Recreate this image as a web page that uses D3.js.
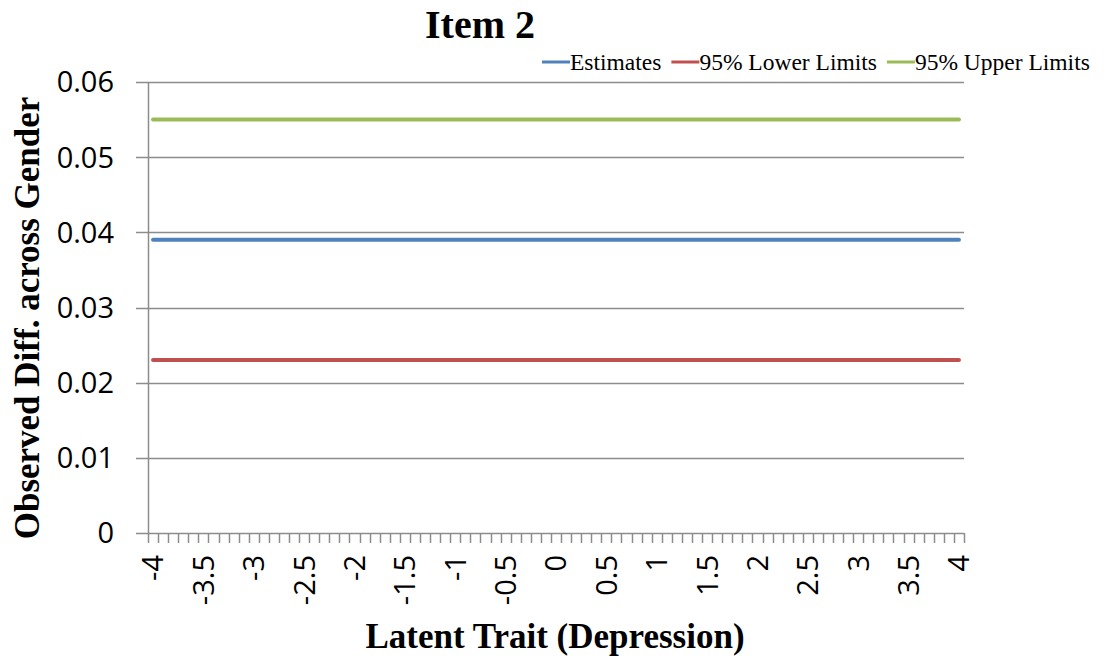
<!DOCTYPE html>
<html>
<head>
<meta charset="utf-8">
<script src="https://cdn.jsdelivr.net/npm/d3@7"></script>
<style>
  body { margin: 0; background: #fff; }
  svg { display: block; }
</style>
</head>
<body>
<div id="chart"></div>
<script>
// categories on the latent trait axis (-4 to 4, step 0.1)
const categories = [
  "-4","-3.9","-3.8","-3.7","-3.6","-3.5","-3.4","-3.3","-3.2","-3.1",
  "-3","-2.9","-2.8","-2.7","-2.6","-2.5","-2.4","-2.3","-2.2","-2.1",
  "-2","-1.9","-1.8","-1.7","-1.6","-1.5","-1.4","-1.3","-1.2","-1.1",
  "-1","-0.9","-0.8","-0.7","-0.6","-0.5","-0.4","-0.3","-0.2","-0.1",
  "0","0.1","0.2","0.3","0.4","0.5","0.6","0.7","0.8","0.9",
  "1","1.1","1.2","1.3","1.4","1.5","1.6","1.7","1.8","1.9",
  "2","2.1","2.2","2.3","2.4","2.5","2.6","2.7","2.8","2.9",
  "3","3.1","3.2","3.3","3.4","3.5","3.6","3.7","3.8","3.9","4"
];
// labels shown on the x axis
const xTickLabels = ["-4","-3.5","-3","-2.5","-2","-1.5","-1","-0.5","0","0.5","1","1.5","2","2.5","3","3.5","4"];
const yTicks = [0, 0.01, 0.02, 0.03, 0.04, 0.05, 0.06];

// series values (flat lines)
const estimates = [
  0.039,0.039,0.039,0.039,0.039,0.039,0.039,0.039,0.039,0.039,
  0.039,0.039,0.039,0.039,0.039,0.039,0.039,0.039,0.039,0.039,
  0.039,0.039,0.039,0.039,0.039,0.039,0.039,0.039,0.039,0.039,
  0.039,0.039,0.039,0.039,0.039,0.039,0.039,0.039,0.039,0.039,
  0.039,0.039,0.039,0.039,0.039,0.039,0.039,0.039,0.039,0.039,
  0.039,0.039,0.039,0.039,0.039,0.039,0.039,0.039,0.039,0.039,
  0.039,0.039,0.039,0.039,0.039,0.039,0.039,0.039,0.039,0.039,
  0.039,0.039,0.039,0.039,0.039,0.039,0.039,0.039,0.039,0.039,0.039
];
const lowerLimits = [
  0.023,0.023,0.023,0.023,0.023,0.023,0.023,0.023,0.023,0.023,
  0.023,0.023,0.023,0.023,0.023,0.023,0.023,0.023,0.023,0.023,
  0.023,0.023,0.023,0.023,0.023,0.023,0.023,0.023,0.023,0.023,
  0.023,0.023,0.023,0.023,0.023,0.023,0.023,0.023,0.023,0.023,
  0.023,0.023,0.023,0.023,0.023,0.023,0.023,0.023,0.023,0.023,
  0.023,0.023,0.023,0.023,0.023,0.023,0.023,0.023,0.023,0.023,
  0.023,0.023,0.023,0.023,0.023,0.023,0.023,0.023,0.023,0.023,
  0.023,0.023,0.023,0.023,0.023,0.023,0.023,0.023,0.023,0.023,0.023
];
const upperLimits = [
  0.055,0.055,0.055,0.055,0.055,0.055,0.055,0.055,0.055,0.055,
  0.055,0.055,0.055,0.055,0.055,0.055,0.055,0.055,0.055,0.055,
  0.055,0.055,0.055,0.055,0.055,0.055,0.055,0.055,0.055,0.055,
  0.055,0.055,0.055,0.055,0.055,0.055,0.055,0.055,0.055,0.055,
  0.055,0.055,0.055,0.055,0.055,0.055,0.055,0.055,0.055,0.055,
  0.055,0.055,0.055,0.055,0.055,0.055,0.055,0.055,0.055,0.055,
  0.055,0.055,0.055,0.055,0.055,0.055,0.055,0.055,0.055,0.055,
  0.055,0.055,0.055,0.055,0.055,0.055,0.055,0.055,0.055,0.055,0.055
];
const seriesNames = ["Estimates", "95% Lower Limits", "95% Upper Limits"];
const seriesColors = ["#4F81BD", "#C0504D", "#9BBB59"];

const width = 1108, height = 662;
const plot = { left: 148, right: 964, top: 82, bottom: 533 };

const svg = d3.select("#chart").append("svg")
  .attr("width", width)
  .attr("height", height);

// scales
const x = d3.scaleBand().domain(categories).range([plot.left, plot.right]);
const y = d3.scaleLinear().domain([0, 0.06]).range([plot.bottom, plot.top]);
const xc = d => x(d) + x.bandwidth() / 2;

// gridlines
svg.append("g")
  .selectAll("line")
  .data(yTicks)
  .enter().append("line")
  .attr("x1", plot.left - 12)
  .attr("x2", plot.right)
  .attr("y1", d => Math.round(y(d)) + 0.5)
  .attr("y2", d => Math.round(y(d)) + 0.5)
  .attr("stroke", "#8c8c8c")
  .attr("stroke-width", 1.5);

// y axis line
svg.append("line")
  .attr("x1", plot.left + 0.5).attr("x2", plot.left + 0.5)
  .attr("y1", plot.top).attr("y2", plot.bottom)
  .attr("stroke", "#8c8c8c")
  .attr("stroke-width", 1.5);

svg.append("g")
  .selectAll("text")
  .data(yTicks)
  .enter().append("text")
  .attr("x", 114)
  .attr("y", d => y(d))
  .attr("dy", "0.36em")
  .attr("text-anchor", "end")
  .style("font-family", "'Open Sans', sans-serif")
  .style("font-size", "29px")
  .attr("fill", "#000")
  .text(d => d === 0 ? "0" : d.toFixed(2));

// x ticks at category boundaries
const bounds = categories.map(c => x(c)).concat([plot.right]);
svg.append("g")
  .selectAll("line")
  .data(bounds)
  .enter().append("line")
  .attr("x1", d => Math.round(d) + 0.5)
  .attr("x2", d => Math.round(d) + 0.5)
  .attr("y1", plot.bottom)
  .attr("y2", plot.bottom + 10)
  .attr("stroke", "#8c8c8c")
  .attr("stroke-width", 1.5);

// x tick labels, rotated
svg.append("g")
  .selectAll("text")
  .data(xTickLabels)
  .enter().append("text")
  .attr("transform", d => `translate(${xc(d)},${plot.bottom + 22}) rotate(-90)`)
  .attr("dy", "0.36em")
  .attr("text-anchor", "end")
  .style("font-family", "'Open Sans', sans-serif")
  .style("font-size", "29px")
  .attr("fill", "#000")
  .text(d => d);

// lines
const allSeries = [estimates, lowerLimits, upperLimits];
const line = d3.line()
  .x((d, i) => xc(categories[i]))
  .y(d => y(d));

svg.append("g")
  .selectAll("path")
  .data(allSeries)
  .enter().append("path")
  .attr("d", d => line(d))
  .attr("fill", "none")
  .attr("stroke", (d, i) => seriesColors[i])
  .attr("stroke-width", 4)
  .attr("stroke-linecap", "round");

// title
svg.append("text")
  .attr("x", 480).attr("y", 38)
  .attr("text-anchor", "middle")
  .style("font-family", "'Liberation Serif', 'Times New Roman', serif")
  .style("font-weight", "bold")
  .style("font-size", "40px")
  .text("Item 2");

// axis titles
svg.append("text")
  .attr("x", 555).attr("y", 648)
  .attr("text-anchor", "middle")
  .style("font-family", "'Liberation Serif', 'Times New Roman', serif")
  .style("font-weight", "bold")
  .style("font-size", "35px")
  .text("Latent Trait (Depression)");

svg.append("text")
  .attr("transform", "translate(39,318) rotate(-90)")
  .attr("text-anchor", "middle")
  .style("font-family", "'Liberation Serif', 'Times New Roman', serif")
  .style("font-weight", "bold")
  .style("font-size", "35px")
  .text("Observed Diff. across Gender");

// legend
const legend = svg.append("g").attr("class", "legend");
let lx = 542;
seriesNames.forEach((name, i) => {
  legend.append("line")
    .attr("x1", lx).attr("x2", lx + 28)
    .attr("y1", 62).attr("y2", 62)
    .attr("stroke", seriesColors[i])
    .attr("stroke-width", 3);
  const t = legend.append("text")
    .attr("x", lx + 28).attr("y", 70)
    .style("font-family", "'Liberation Serif', 'Times New Roman', serif")
    .style("font-size", "23.5px")
    .attr("fill", "#000")
    .text(name);
  lx += 28 + t.node().getComputedTextLength() + 10;
});
</script>
</body>
</html>
